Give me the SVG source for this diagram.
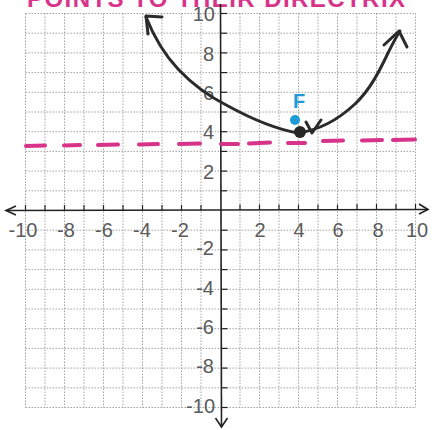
<svg xmlns="http://www.w3.org/2000/svg" width="434" height="430" viewBox="0 0 434 430">
<defs>
<style>
.grid line{stroke:#a3a3a3;stroke-width:1;stroke-dasharray:1.5 1.5}
.axis{stroke:#222;stroke-width:1.6;fill:none}
.tick{stroke:#222;stroke-width:1.2}
.lbl{font-family:"Liberation Sans",Arial,sans-serif;font-size:20px;fill:#5a5a5a}
.curve{stroke:#2b2b2b;stroke-width:3;fill:none;stroke-linecap:round;stroke-linejoin:round}
.dir{stroke:#d8338b;stroke-width:4;stroke-linecap:round}
</style>
</defs>
<rect width="434" height="430" fill="#ffffff"/>
<g id="grid" class="grid">
<line x1="25.5" y1="13.5" x2="25.5" y2="407.5"/><line x1="45" y1="13.5" x2="45" y2="407.5"/><line x1="64.5" y1="13.5" x2="64.5" y2="407.5"/><line x1="84" y1="13.5" x2="84" y2="407.5"/><line x1="103.5" y1="13.5" x2="103.5" y2="407.5"/><line x1="123" y1="13.5" x2="123" y2="407.5"/><line x1="142.5" y1="13.5" x2="142.5" y2="407.5"/><line x1="162" y1="13.5" x2="162" y2="407.5"/><line x1="181.5" y1="13.5" x2="181.5" y2="407.5"/><line x1="201" y1="13.5" x2="201" y2="407.5"/><line x1="240" y1="13.5" x2="240" y2="407.5"/><line x1="259.5" y1="13.5" x2="259.5" y2="407.5"/><line x1="279" y1="13.5" x2="279" y2="407.5"/><line x1="298.5" y1="13.5" x2="298.5" y2="407.5"/><line x1="318" y1="13.5" x2="318" y2="407.5"/><line x1="337.5" y1="13.5" x2="337.5" y2="407.5"/><line x1="357" y1="13.5" x2="357" y2="407.5"/><line x1="376.5" y1="13.5" x2="376.5" y2="407.5"/><line x1="396" y1="13.5" x2="396" y2="407.5"/><line x1="415.5" y1="13.5" x2="415.5" y2="407.5"/>
<line x1="25.5" y1="13.5" x2="415.5" y2="13.5"/><line x1="25.5" y1="33.2" x2="415.5" y2="33.2"/><line x1="25.5" y1="52.9" x2="415.5" y2="52.9"/><line x1="25.5" y1="72.6" x2="415.5" y2="72.6"/><line x1="25.5" y1="92.3" x2="415.5" y2="92.3"/><line x1="25.5" y1="112" x2="415.5" y2="112"/><line x1="25.5" y1="131.7" x2="415.5" y2="131.7"/><line x1="25.5" y1="151.4" x2="415.5" y2="151.4"/><line x1="25.5" y1="171.1" x2="415.5" y2="171.1"/><line x1="25.5" y1="190.8" x2="415.5" y2="190.8"/><line x1="25.5" y1="230.2" x2="415.5" y2="230.2"/><line x1="25.5" y1="249.9" x2="415.5" y2="249.9"/><line x1="25.5" y1="269.6" x2="415.5" y2="269.6"/><line x1="25.5" y1="289.3" x2="415.5" y2="289.3"/><line x1="25.5" y1="309" x2="415.5" y2="309"/><line x1="25.5" y1="328.7" x2="415.5" y2="328.7"/><line x1="25.5" y1="348.4" x2="415.5" y2="348.4"/><line x1="25.5" y1="368.1" x2="415.5" y2="368.1"/><line x1="25.5" y1="387.8" x2="415.5" y2="387.8"/><line x1="25.5" y1="407.5" x2="415.5" y2="407.5"/>
</g>
<g id="title">
<text x="27" y="7" font-family="'Liberation Sans',Arial,sans-serif" font-size="24" font-weight="bold" fill="#d8338b" textLength="378" lengthAdjust="spacing">POINTS TO THEIR DIRECTRIX</text>
</g>
<g id="axes">
<line class="axis" x1="6" y1="210.5" x2="428" y2="209.5"/>
<polyline class="axis" points="16,206 6,210.5 16,215"/>
<polyline class="axis" points="419,204 428,209.5 419,214"/>
<line class="axis" x1="220.5" y1="4" x2="221.5" y2="427"/>
<polyline class="axis" points="215.5,418 221.5,427 227.5,418"/>
<g class="tick">
<line x1="25.5" y1="205" x2="25.5" y2="210.5"/><line x1="45" y1="205" x2="45" y2="210.5"/><line x1="64.5" y1="205" x2="64.5" y2="210.5"/><line x1="84" y1="205" x2="84" y2="210.5"/><line x1="103.5" y1="205" x2="103.5" y2="210.5"/><line x1="123" y1="205" x2="123" y2="210.5"/><line x1="142.5" y1="205" x2="142.5" y2="210.5"/><line x1="162" y1="205" x2="162" y2="210.5"/><line x1="181.5" y1="205" x2="181.5" y2="210.5"/><line x1="201" y1="205" x2="201" y2="210.5"/><line x1="240" y1="204.5" x2="240" y2="210"/><line x1="259.5" y1="204.5" x2="259.5" y2="210"/><line x1="279" y1="204.5" x2="279" y2="210"/><line x1="298.5" y1="204.5" x2="298.5" y2="210"/><line x1="318" y1="204.5" x2="318" y2="210"/><line x1="337.5" y1="204.5" x2="337.5" y2="210"/><line x1="357" y1="204" x2="357" y2="209.5"/><line x1="376.5" y1="204" x2="376.5" y2="209.5"/><line x1="396" y1="204" x2="396" y2="209.5"/><line x1="415.5" y1="204" x2="415.5" y2="209.5"/>
<line x1="220.5" y1="13.5" x2="227" y2="13.5"/><line x1="220.5" y1="33.2" x2="227" y2="33.2"/><line x1="220.5" y1="52.9" x2="227" y2="52.9"/><line x1="220.5" y1="72.6" x2="227" y2="72.6"/><line x1="220.5" y1="92.3" x2="227" y2="92.3"/><line x1="220.5" y1="112" x2="227" y2="112"/><line x1="220.5" y1="131.7" x2="227" y2="131.7"/><line x1="220.5" y1="151.4" x2="227" y2="151.4"/><line x1="220.5" y1="171.1" x2="227" y2="171.1"/><line x1="220.5" y1="190.8" x2="227" y2="190.8"/><line x1="221" y1="230.2" x2="227.5" y2="230.2"/><line x1="221" y1="249.9" x2="227.5" y2="249.9"/><line x1="221" y1="269.6" x2="227.5" y2="269.6"/><line x1="221" y1="289.3" x2="227.5" y2="289.3"/><line x1="221" y1="309" x2="227.5" y2="309"/><line x1="221" y1="328.7" x2="227.5" y2="328.7"/><line x1="221" y1="348.4" x2="227.5" y2="348.4"/><line x1="221" y1="368.1" x2="227.5" y2="368.1"/><line x1="221" y1="387.8" x2="227.5" y2="387.8"/><line x1="221" y1="407.5" x2="227.5" y2="407.5"/>
</g>
</g>
<g id="x-labels" class="lbl" text-anchor="middle">
<text x="23" y="237">-10</text><text x="66" y="237">-8</text><text x="104" y="237">-6</text><text x="142" y="237">-4</text><text x="180" y="237">-2</text><text x="260" y="237">2</text><text x="299" y="237">4</text><text x="338" y="237">6</text><text x="378" y="237">8</text><text x="417" y="237">10</text>
</g>
<g id="y-labels" class="lbl" text-anchor="end">
<text x="215" y="21">10</text><text x="214" y="61">8</text><text x="214" y="100">6</text><text x="214" y="139">4</text><text x="214" y="179">2</text><text x="214" y="255">-2</text><text x="214" y="295">-4</text><text x="214" y="334">-6</text><text x="214" y="373">-8</text><text x="215" y="413">-10</text>
</g>
<g id="directrix">
<line class="dir" x1="26" y1="146" x2="45" y2="145.5"/><line class="dir" x1="64" y1="145.5" x2="80" y2="145"/><line class="dir" x1="98" y1="145" x2="118" y2="144.5"/><line class="dir" x1="139" y1="144.5" x2="158" y2="144"/><line class="dir" x1="179" y1="144" x2="200" y2="143.5"/><line class="dir" x1="221" y1="144" x2="238" y2="144"/><line class="dir" x1="249" y1="143.5" x2="270" y2="142.5"/><line class="dir" x1="288" y1="143" x2="305" y2="143"/><line class="dir" x1="323" y1="141" x2="343" y2="140.5"/><line class="dir" x1="362" y1="140.5" x2="382" y2="140"/><line class="dir" x1="393" y1="140" x2="415" y2="139.5"/>
</g>
<g id="parabola">
<path class="curve" d="M146,17 C152,32 162,52 178,69 C192,84 210,97 228,106 C250,118 275,129 298,133 C320,130 340,118 355,104 C370,90 380,70 388,53 C392,45 396,37 400,31"/>
<polyline class="curve" points="162,17 146,16 148,34"/>
<polyline class="curve" points="384,45 399,31 407,47"/>
<polyline class="curve" points="306,122 312,133 321,120"/>
</g>
<g id="vertex">
<circle cx="300" cy="132" r="6" fill="#262626"/>
</g>
<g id="focus">
<circle cx="295" cy="120" r="5" fill="#1e9ad6"/>
<text x="299" y="108" text-anchor="middle" font-family="'Liberation Sans',Arial,sans-serif" font-size="20" font-weight="bold" fill="#1e9ad6">F</text>
</g>
</svg>
